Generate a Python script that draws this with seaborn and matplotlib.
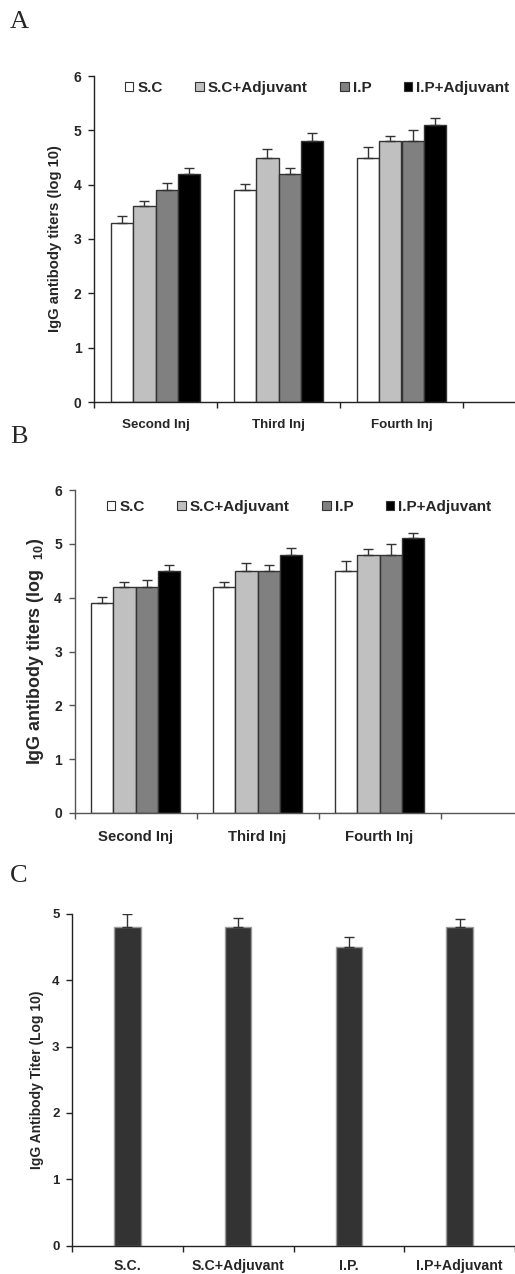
import numpy as np
import pandas as pd
import matplotlib
matplotlib.use("Agg")
import matplotlib.pyplot as plt
import seaborn as sns
from matplotlib.patches import Patch

# ---------------- data ----------------
injections = ["Second Inj", "Third Inj", "Fourth Inj"]
routes = ["S.C", "S.C+Adjuvant", "I.P", "I.P+Adjuvant"]
route_colors = ["#FFFFFF", "#C0C0C0", "#808080", "#000000"]

# Panel A
a_sc = [3.3, 3.9, 4.5]
a_sc_adj = [3.6, 4.5, 4.8]
a_ip = [3.9, 4.2, 4.8]
a_ip_adj = [4.2, 4.8, 5.1]
a_sc_err = [0.13, 0.12, 0.2]
a_sc_adj_err = [0.1, 0.15, 0.1]
a_ip_err = [0.13, 0.1, 0.2]
a_ip_adj_err = [0.1, 0.15, 0.12]

# Panel B
b_sc = [3.9, 4.2, 4.5]
b_sc_adj = [4.2, 4.5, 4.8]
b_ip = [4.2, 4.5, 4.8]
b_ip_adj = [4.5, 4.8, 5.1]
b_sc_err = [0.12, 0.1, 0.19]
b_sc_adj_err = [0.1, 0.14, 0.1]
b_ip_err = [0.12, 0.1, 0.19]
b_ip_adj_err = [0.1, 0.13, 0.11]

# Panel C
c_groups = ["S.C.", "S.C+Adjuvant", "I.P.", "I.P+Adjuvant"]
c_values = [4.8, 4.8, 4.5, 4.8]
c_err = [0.2, 0.14, 0.15, 0.12]

a_ticks = [0, 1, 2, 3, 4, 5, 6]
c_ticks = [0, 1, 2, 3, 4, 5]

# ---------------- style ----------------
sns.set_style("white")
plt.rcParams["font.family"] = ["Liberation Sans", "DejaVu Sans"]
plt.rcParams["font.weight"] = "bold"
plt.rcParams["mathtext.fontset"] = "custom"
plt.rcParams["mathtext.rm"] = "Liberation Sans:bold"
plt.rcParams["mathtext.bf"] = "Liberation Sans:bold"
plt.rcParams["mathtext.it"] = "Liberation Sans:bold"

W, H = 515, 1274
fig = plt.figure(figsize=(W / 100, H / 100), dpi=100)
fig.patch.set_facecolor("white")


def axes_px(left, top, right, bottom):
    return fig.add_axes([left / W, 1 - bottom / H, (right - left) / W, (bottom - top) / H])


def style_axes(ax, ncat, xmax, yticks, tick_fs, xtick_fs, spine_color, xpad):
    for s in ["top", "right"]:
        ax.spines[s].set_visible(False)
    for s in ["left", "bottom"]:
        ax.spines[s].set_color(spine_color)
        ax.spines[s].set_linewidth(1.0)
    ax.set_ylim(yticks[0], yticks[-1])
    ax.set_xlim(-0.5, xmax)
    ax.set_yticks(yticks)
    ax.set_yticklabels([str(t) for t in yticks], fontsize=tick_fs, fontweight="bold")
    ax.tick_params(axis="y", direction="out", length=4, width=1.0, color=spine_color, pad=5, left=True)
    ax.set_xticks(np.arange(-0.5, ncat, 1.0), minor=True)
    ax.tick_params(axis="x", which="minor", direction="out", length=4, width=1.0, color=spine_color, bottom=True)
    ax.tick_params(axis="x", which="major", length=0, pad=xpad, labelsize=xtick_fs)
    for lbl in ax.get_xticklabels():
        lbl.set_fontweight("bold")
    ax.set_xlabel("")
    ax.grid(False)


def grouped_panel(ax, vals, errs):
    df = pd.DataFrame({
        "Injection": injections * 4,
        "Route": [r for r in routes for _ in injections],
        "Titer": [v for series in vals for v in series],
    })
    sns.barplot(data=df, x="Injection", y="Titer", hue="Route", order=injections,
                hue_order=routes, palette=dict(zip(routes, route_colors)),
                saturation=1, errorbar=None, width=0.73, edgecolor="#333333",
                linewidth=1.0, legend=False, ax=ax)
    for cont, err in zip(ax.containers, errs):
        xs = [p.get_x() + p.get_width() / 2 for p in cont]
        ys = [p.get_height() for p in cont]
        ax.errorbar(xs, ys, yerr=[np.zeros(len(err)), err], fmt="none",
                    ecolor="#333333", elinewidth=1.0, capsize=3.5, capthick=1.0, zorder=5)


def add_legend(ax, x_px, y_px, fs):
    handles = [Patch(facecolor=c, edgecolor="#333333", linewidth=0.8) for c in route_colors]
    ax.legend(handles, routes, ncol=4, frameon=False, loc="center left",
              bbox_to_anchor=(x_px / W, 1 - y_px / H), bbox_transform=fig.transFigure,
              borderpad=0, borderaxespad=0, handlelength=0.55, handleheight=0.55,
              handletextpad=0.25, columnspacing=2.15,
              prop={"weight": "bold", "size": fs})


def set_ylabel(ax, text, fs, x_px, ax_left):
    ax.set_ylabel(text, fontsize=fs, fontweight="bold")
    ax.yaxis.label.set_verticalalignment("center")
    ax.yaxis.set_label_coords((x_px - ax_left) / (515 - ax_left), 0.5)


# ---------------- Panel A ----------------
axA = axes_px(94, 76, 515, 402)
grouped_panel(axA, [a_sc, a_sc_adj, a_ip, a_ip_adj],
              [a_sc_err, a_sc_adj_err, a_ip_err, a_ip_adj_err])
style_axes(axA, 3, -0.5 + 421 / 123, a_ticks, 10, 9.6, "#222222", 12)
set_ylabel(axA, "IgG antibody titers (log 10)", 10.6, 55, 94)
add_legend(axA, 125, 88, 11)

# ---------------- Panel B ----------------
axB = axes_px(74.5, 490, 515, 813)
grouped_panel(axB, [b_sc, b_sc_adj, b_ip, b_ip_adj],
              [b_sc_err, b_sc_adj_err, b_ip_err, b_ip_adj_err])
style_axes(axB, 3, -0.5 + 440.5 / 122, a_ticks, 10, 10.7, "#555555", 12)
set_ylabel(axB, r"IgG antibody titers (log  $_{10}$)", 12.9, 36, 74.5)
add_legend(axB, 107, 507, 11)

# ---------------- Panel C ----------------
axC = axes_px(72, 914, 515, 1245.5)
sns.barplot(x=c_groups, y=c_values, order=c_groups, color="#333333", saturation=1,
            errorbar=None, width=0.24, edgecolor="#9A9A9A", linewidth=1.0, ax=axC)
cxs = [p.get_x() + p.get_width() / 2 for p in axC.containers[0]]
cys = [p.get_height() for p in axC.containers[0]]
axC.errorbar(cxs, cys, yerr=[np.zeros(len(c_err)), c_err], fmt="none",
             ecolor="#333333", elinewidth=1.0, capsize=3.5, capthick=1.0, zorder=5)
style_axes(axC, 4, -0.5 + 443 / 111.7, c_ticks, 9.5, 10.2, "#222222", 10)
set_ylabel(axC, "IgG Antibody Titer (Log 10)", 10, 37, 72)

# ---------------- Panel letters ----------------
for letter, base_y in [("A", 28), ("B", 443), ("C", 882)]:
    fig.text(10 / W, 1 - base_y / H, letter, family=["Liberation Serif", "DejaVu Serif"],
             fontsize=19, fontweight="normal", va="baseline", ha="left")

fig.savefig("out.png", dpi=100, facecolor="white")
